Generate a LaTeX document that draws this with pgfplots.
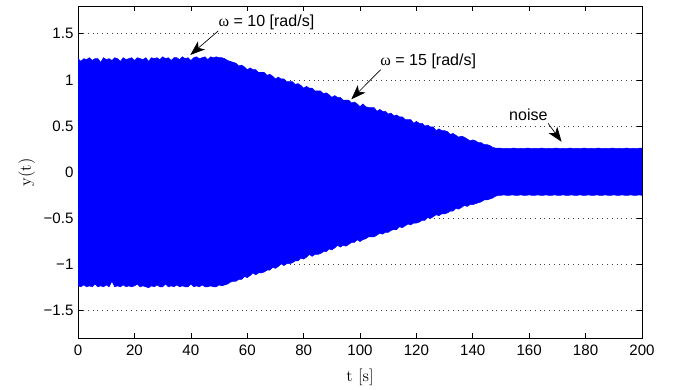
\documentclass[border=0pt]{standalone}
\usepackage{fontspec}
\usepackage{pgfplots}
\usepackage{pgfplotstable}
\pgfplotsset{compat=1.18}
\usepgfplotslibrary{fillbetween}
\usetikzlibrary{arrows.meta}
\newfontfamily\helv{Liberation Sans}
\newfontfamily\tms{Liberation Serif}

\pgfplotstableread{
t up lo
0 1.23 -1.23
1 1.20 -1.24
2 1.23 -1.22
3 1.22 -1.24
4 1.24 -1.23
5 1.21 -1.24
6 1.23 -1.21
7 1.23 -1.24
8 1.19 -1.23
9 1.24 -1.24
10 1.22 -1.22
11 1.23 -1.24
12 1.21 -1.18
13 1.24 -1.24
14 1.23 -1.23
15 1.20 -1.24
16 1.24 -1.22
17 1.22 -1.24
18 1.23 -1.23
19 1.24 -1.24
20 1.21 -1.23
21 1.24 -1.21
22 1.23 -1.24
23 1.22 -1.23
24 1.24 -1.24
25 1.20 -1.25
26 1.24 -1.23
27 1.23 -1.24
28 1.24 -1.22
29 1.22 -1.24
30 1.25 -1.24
31 1.23 -1.21
32 1.24 -1.24
33 1.21 -1.23
34 1.24 -1.24
35 1.24 -1.22
36 1.22 -1.24
37 1.25 -1.23
38 1.23 -1.24
39 1.24 -1.24
40 1.21 -1.21
41 1.24 -1.24
42 1.25 -1.23
43 1.23 -1.24
44 1.24 -1.22
45 1.25 -1.24
46 1.22 -1.24
47 1.25 -1.23
48 1.24 -1.24
49 1.25 -1.24
50 1.24 -1.22
51 1.24 -1.23
52 1.23 -1.22
53 1.21 -1.21
54 1.20 -1.19
55 1.19 -1.18
56 1.18 -1.18
57 1.15 -1.16
58 1.16 -1.16
59 1.14 -1.13
60 1.11 -1.14
61 1.13 -1.12
62 1.11 -1.09
63 1.11 -1.11
64 1.08 -1.09
65 1.08 -1.09
66 1.08 -1.08
67 1.05 -1.06
68 1.06 -1.06
69 1.04 -1.03
70 1.01 -1.04
71 1.03 -1.02
72 1.01 -0.99
73 1.01 -1.01
74 0.98 -0.99
75 0.98 -0.99
76 0.98 -0.98
77 0.95 -0.96
78 0.96 -0.96
79 0.94 -0.93
80 0.91 -0.94
81 0.93 -0.92
82 0.91 -0.89
83 0.91 -0.91
84 0.88 -0.89
85 0.88 -0.89
86 0.88 -0.88
87 0.85 -0.86
88 0.86 -0.86
89 0.84 -0.83
90 0.81 -0.84
91 0.83 -0.82
92 0.81 -0.79
93 0.81 -0.81
94 0.78 -0.79
95 0.78 -0.80
96 0.78 -0.78
97 0.75 -0.76
98 0.76 -0.76
99 0.74 -0.73
100 0.71 -0.75
101 0.74 -0.73
102 0.71 -0.72
103 0.70 -0.70
104 0.70 -0.70
105 0.70 -0.70
106 0.66 -0.68
107 0.68 -0.66
108 0.66 -0.67
109 0.66 -0.65
110 0.63 -0.65
111 0.64 -0.63
112 0.61 -0.62
113 0.62 -0.62
114 0.60 -0.59
115 0.60 -0.60
116 0.57 -0.58
117 0.57 -0.56
118 0.57 -0.57
119 0.53 -0.55
120 0.55 -0.55
121 0.53 -0.54
122 0.53 -0.52
123 0.50 -0.52
124 0.51 -0.49
125 0.49 -0.50
126 0.49 -0.48
127 0.45 -0.46
128 0.47 -0.47
129 0.45 -0.45
130 0.45 -0.45
131 0.44 -0.44
132 0.41 -0.42
133 0.42 -0.42
134 0.40 -0.39
135 0.38 -0.40
136 0.39 -0.38
137 0.38 -0.36
138 0.36 -0.37
139 0.34 -0.35
140 0.35 -0.35
141 0.34 -0.34
142 0.32 -0.33
143 0.32 -0.32
144 0.30 -0.30
145 0.30 -0.30
146 0.29 -0.29
147 0.27 -0.28
148 0.262 -0.26
149 0.26 -0.25
150 0.26 -0.25
151 0.255 -0.245
152 0.26 -0.25
153 0.255 -0.25
154 0.26 -0.245
155 0.26 -0.25
156 0.255 -0.25
157 0.26 -0.245
158 0.255 -0.25
159 0.26 -0.25
160 0.26 -0.245
161 0.255 -0.25
162 0.26 -0.25
163 0.255 -0.245
164 0.26 -0.25
165 0.26 -0.25
166 0.255 -0.245
167 0.26 -0.25
168 0.255 -0.25
169 0.26 -0.245
170 0.26 -0.25
171 0.255 -0.25
172 0.26 -0.245
173 0.255 -0.25
174 0.26 -0.25
175 0.26 -0.245
176 0.255 -0.25
177 0.26 -0.25
178 0.255 -0.245
179 0.26 -0.25
180 0.26 -0.25
181 0.255 -0.245
182 0.26 -0.25
183 0.255 -0.25
184 0.26 -0.245
185 0.26 -0.25
186 0.255 -0.25
187 0.26 -0.245
188 0.255 -0.25
189 0.26 -0.25
190 0.26 -0.245
191 0.255 -0.25
192 0.26 -0.25
193 0.255 -0.245
194 0.26 -0.25
195 0.26 -0.25
196 0.255 -0.245
197 0.26 -0.25
198 0.255 -0.25
199 0.26 -0.245
200 0.26 -0.25
}\sig

\begin{document}
\begin{tikzpicture}
\begin{axis}[
  scale only axis, width=422.25pt, height=249pt,
  xmin=0, xmax=200, ymin=-1.8, ymax=1.8,
  xtick={0,20,...,200},
  ytick={-1.5,-1,-0.5,0,0.5,1,1.5},
  yticklabels={−1.5,−1,−0.5,0,0.5,1,1.5},
  ymajorgrids,
  major grid style={black!75, line width=0.5pt, dash pattern=on 0.6pt off 3pt},
  tick align=inside, major tick length=3.75pt,
  tick style={black, line width=0.5pt},
  axis line style={black, line width=0.6pt},
  tick label style={font=\helv\fontsize{11.3}{13}\selectfont},
  xticklabel style={yshift=-1.5pt},
  /pgf/number format/assume math mode=true,
  xlabel={t~[s]}, ylabel={y(t)},
  label style={font=\fontsize{12.5}{14}\selectfont},
  xlabel style={at={(axis description cs:0.5,-0.116)}, anchor=center},
  ylabel style={at={(axis description cs:-0.091,0.5)}, anchor=center},
]
\addplot[name path=U, blue, line width=0.4pt] table[x=t, y=up] {\sig};
\addplot[name path=L, blue, line width=0.4pt] table[x=t, y=lo] {\sig};
\addplot[fill=blue, draw=none] fill between[of=U and L];

\node[font=\helv\fontsize{12}{14}\selectfont] at (axis cs:66.8,1.62) {{\tms ω} = 10 [rad/s]};
\draw[line width=0.5pt, -{Stealth[length=11pt,width=8pt,inset=3pt]}] (axis cs:49.7,1.53) -- (axis cs:39.8,1.27);
\node[font=\helv\fontsize{12}{14}\selectfont] at (axis cs:124.2,1.20) {{\tms ω} = 15 [rad/s]};
\draw[line width=0.5pt, -{Stealth[length=11pt,width=8pt,inset=3pt]}] (axis cs:107.3,1.11) -- (axis cs:96.9,0.79);
\node[font=\helv\fontsize{12}{14}\selectfont] at (axis cs:159.7,0.62) {noise};
\draw[line width=0.5pt, -{Stealth[length=11pt,width=8pt,inset=3pt]}] (axis cs:166.7,0.53) -- (axis cs:171.5,0.33);
\end{axis}
\pgfresetboundingbox
\path (-58.5pt,-38.25pt) rectangle (449.25pt,253.5pt);
\end{tikzpicture}
\end{document}
